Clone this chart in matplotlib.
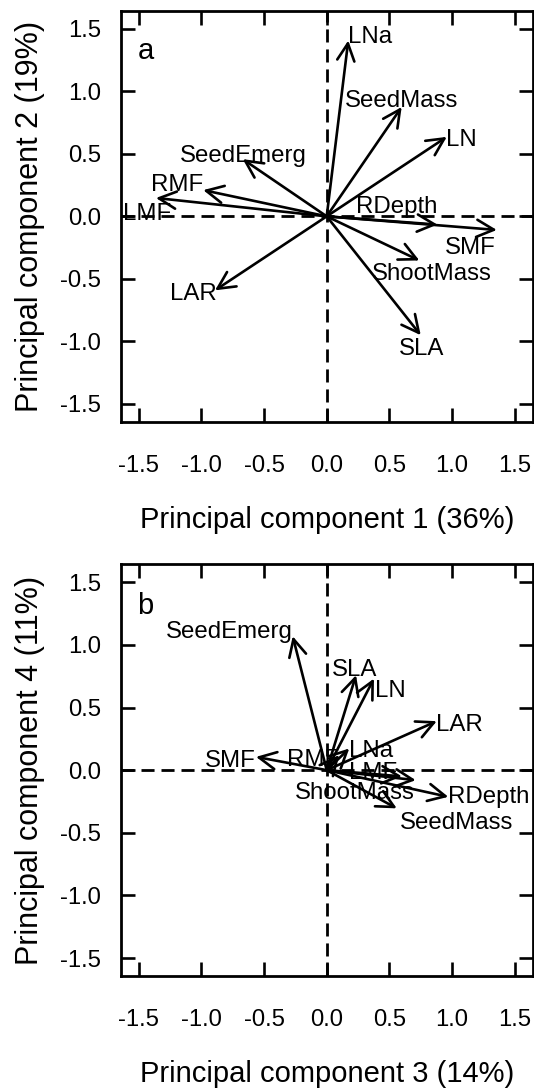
import matplotlib
matplotlib.use("Agg")
import matplotlib.pyplot as plt

plt.rcParams['font.family'] = ['Liberation Sans', 'DejaVu Sans']

# ---------------- data ----------------
variables = ["LNa", "SeedMass", "LN", "SeedEmerg", "RMF", "LMF",
             "RDepth", "SMF", "ShootMass", "SLA", "LAR"]
pc1 = [0.172, 0.598, 0.958, -0.670, -0.985, -1.362, 0.883, 1.357, 0.739, 0.750, -0.891]
pc2 = [1.407, 0.875, 0.636, 0.458, 0.210, 0.147, -0.066, -0.109, -0.353, -0.951, -0.592]
pc3 = [0.180, 0.559, 0.377, -0.271, 0.100, 0.600, 0.970, -0.564, 0.710, 0.234, 0.878]
pc4 = [0.173, -0.305, 0.731, 1.069, 0.120, -0.050, -0.213, 0.106, -0.080, 0.758, 0.391]

xlabels = ["Principal component 1 (36%)", "Principal component 3 (14%)"]
ylabels = ["Principal component 2 (19%)", "Principal component 4 (11%)"]
panel_letters = ["a", "b"]
tick_vals = [-1.5, -1.0, -0.5, 0.0, 0.5, 1.0, 1.5]
tick_labels = ["-1.5", "-1.0", "-0.5", "0.0", "0.5", "1.0", "1.5"]

# label offsets (pixels, x right / y up) -- layout only
offsets_a = {"LNa": (22, 6), "SeedMass": (0, 8), "LN": (15, -1), "SeedEmerg": (1, 6),
             "RMF": (-26, 8), "LMF": (-9, -14), "RDepth": (-41, 20), "SMF": (-27, -16),
             "ShootMass": (12, -11), "SLA": (1, -11), "LAR": (-22, -1)}
offsets_b = {"LNa": (22, 0), "SeedMass": (60, -12), "LN": (16, -10), "SeedEmerg": (-63, 7),
             "RMF": (-26, -2), "LMF": (-29, 6), "RDepth": (40, 2), "SMF": (-26, -2),
             "ShootMass": (-61, -10), "SLA": (-1, 8), "LAR": (23, -1)}

W, H = 534, 1091
fig = plt.figure(figsize=(W / 100, H / 100), dpi=100)

def px_axes(left, top, right, bottom):
    return [left / W, 1 - bottom / H, (right - left) / W, (bottom - top) / H]

ax_a = fig.add_axes(px_axes(120.7, 11, 532.7, 421.7))
ax_b = fig.add_axes(px_axes(120.7, 564.3, 532.7, 976))

lim = 1.643
panels = [(ax_a, pc1, pc2, offsets_a), (ax_b, pc3, pc4, offsets_b)]
for i, (ax, xs, ys, offs) in enumerate(panels):
    ax.set_xlim(-lim, lim)
    ax.set_ylim(-lim, lim)
    ax.axhline(0, color="black", lw=2.0, ls=(0, (4.7, 2.5)), zorder=1)
    ax.axvline(0, color="black", lw=2.0, ls=(0, (4.7, 2.5)), zorder=1)
    for name, x, y in zip(variables, xs, ys):
        ax.annotate("", xy=(x, y), xytext=(0, 0),
                    arrowprops=dict(arrowstyle="->,head_length=0.62,head_width=0.31",
                                    lw=1.9, color="black", shrinkA=0, shrinkB=0,
                                    mutation_scale=20), zorder=3)
        ax.annotate(name, xy=(x, y), xytext=offs[name], textcoords="offset pixels",
                    ha="center", va="center_baseline", fontsize=17.3, color="black",
                    zorder=4)
    ax.text(0.06, 0.91 if i == 0 else 0.905, panel_letters[i], transform=ax.transAxes,
            fontsize=21, ha="center", va="center_baseline")
    ax.set_xticks(tick_vals)
    ax.set_xticklabels(tick_labels)
    ax.set_yticks(tick_vals)
    ax.set_yticklabels(tick_labels)
    ax.tick_params(direction="in", length=10, width=1.9, top=True, right=True,
                   labelsize=17.2, colors="black")
    ax.tick_params(axis="x", pad=24)
    ax.tick_params(axis="y", pad=14)
    for sp in ax.spines.values():
        sp.set_linewidth(2.0)
    ax.set_xlabel(xlabels[i], fontsize=21)
    ax.set_ylabel(ylabels[i], fontsize=22)
    ax.xaxis.set_label_coords(0.5, -0.239)
    ax.xaxis.label.set_va("center")
    ax.yaxis.set_label_coords(-0.220, 0.5)
    ax.yaxis.label.set_va("center")

fig.savefig("out.png", dpi=100)
